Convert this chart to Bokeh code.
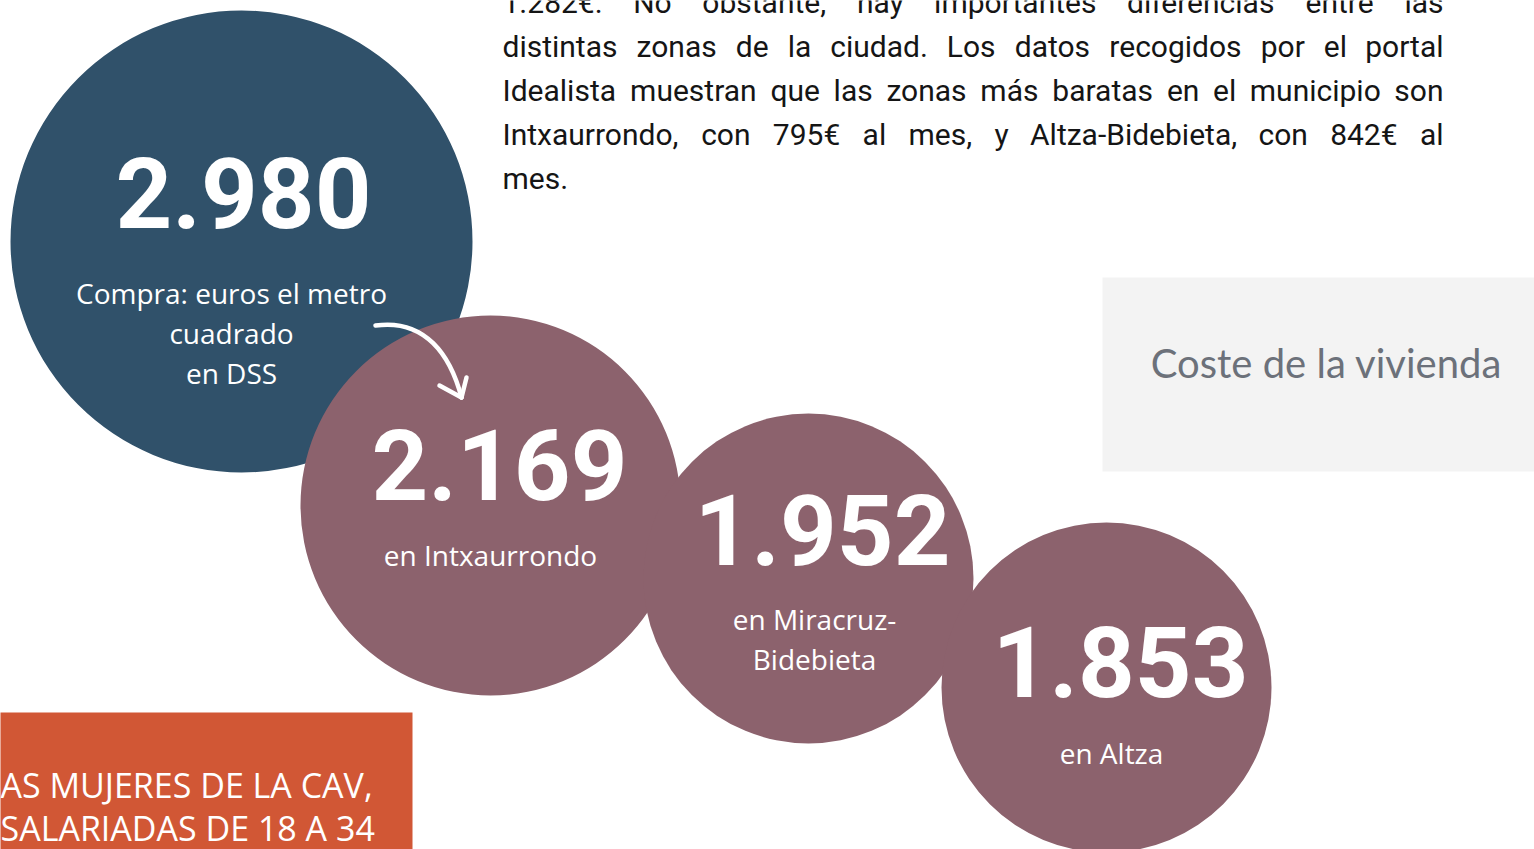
from bokeh.plotting import figure
from bokeh.models import Range1d
from bokeh.core.properties import value
from bokeh.embed import file_html
from bokeh.resources import INLINE

# ---------------- data ----------------
values = ["2.980", "2.169", "1.952", "1.853"]
labels = [
    ["Compra: euros el metro", "cuadrado", "en DSS"],
    ["en Intxaurrondo"],
    ["en Miracruz-", "Bidebieta"],
    ["en Altza"],
]
paragraph = [
    "1.282€. No obstante, hay importantes diferencias entre las",
    "distintas zonas de la ciudad. Los datos recogidos por el portal",
    "Idealista muestran que las zonas más baratas en el municipio son",
    "Intxaurrondo, con 795€ al mes, y Altza-Bidebieta, con 842€ al",
    "mes.",
]
box_title = "Coste de la vivienda"
orange_lines = ["AS MUJERES DE LA CAV,", "SALARIADAS DE 18 A 34"]

# ---------------- layout (screen px) ----------------
cx = [241, 490, 808, 1106]
cy = [241, 505, 578, 687]
rad = [231, 190, 165, 165]
colors = ["#30516a", "#8c626d", "#8c626d", "#8c626d"]
num_x = [243, 499, 822, 1120]
num_base = [228, 500, 565, 697]
num_fs = 99
lab_x = [231, 490, 814, 1111]
lab_y0 = [292, 554, 618, 752]
lab_dy = 40

MID = 0.36  # baseline -> 'middle' anchor offset (em)

# approximate Roboto Regular advance widths (em) for justification
ADV = {
    'a': .544, 'b': .561, 'c': .523, 'd': .564, 'e': .530, 'f': .347, 'g': .561,
    'h': .551, 'i': .243, 'j': .239, 'k': .507, 'l': .243, 'm': .876, 'n': .552,
    'o': .570, 'p': .561, 'q': .568, 'r': .338, 's': .516, 't': .327, 'u': .551,
    'v': .484, 'w': .751, 'x': .496, 'y': .473, 'z': .496, 'á': .544,
    '.': .263, ',': .196, '€': .561, '-': .276, 'I': .279, 'L': .538, 'A': .652,
    'N': .713,
}
def est_width(word, fs):
    return sum(ADV.get(ch, .561) for ch in word) * fs

W, H = 1534, 849
p = figure(width=W, height=H, x_range=Range1d(0, W), y_range=Range1d(H, 0),
           output_backend="svg", toolbar_location=None, min_border=0)
p.axis.visible = False
p.grid.visible = False
p.outline_line_color = None
p.background_fill_color = "white"
p.border_fill_color = "white"

# paragraph, justified word by word
fs = 30
x0, x1 = 502, 1443
for i, line in enumerate(paragraph):
    y = 13 + 44 * i - MID * fs
    words = line.split(" ")
    if i == len(paragraph) - 1 or len(words) == 1:
        p.text(x=[x0], y=[y], text=[line], text_font=value("Roboto"),
               text_font_size=f"{fs}px", text_color="#151515",
               text_align="left", text_baseline="middle")
        continue
    widths = [est_width(w, fs) for w in words]
    gap = ((x1 - x0) - sum(widths)) / (len(words) - 1)
    xs, aligns = [], []
    pos = x0
    for j, w in enumerate(words):
        if j == 0:
            xs.append(x0); aligns.append("left")
        elif j == len(words) - 1:
            xs.append(x1); aligns.append("right")
        else:
            xs.append(pos + widths[j] / 2); aligns.append("center")
        pos += widths[j] + gap
    for xx, ww, al in zip(xs, words, aligns):
        p.text(x=[xx], y=[y], text=[ww], text_font=value("Roboto"),
               text_font_size=f"{fs}px", text_color="#151515",
               text_align=al, text_baseline="middle")

# grey box
p.quad(left=[1102], right=[1540], top=[277], bottom=[471],
       fill_color="#f3f3f3", line_color=None)
p.text(x=[1326], y=[362], text=[box_title], text_font=value("Lato"),
       text_font_size="40px", text_color="#6c717a",
       text_align="center", text_baseline="middle")

# orange box
p.quad(left=[-5], right=[412], top=[712], bottom=[860],
       fill_color="#d15735", line_color=None)
for i, t in enumerate(orange_lines):
    p.text(x=[0], y=[797 + 43 * i - MID * 34], text=[t], text_font=value("Open Sans"),
           text_font_size="34px", text_color="white",
           text_align="left", text_baseline="middle")

# circles
for i in range(4):
    p.circle(x=[cx[i]], y=[cy[i]], radius=rad[i], fill_color=colors[i], line_color=None)
    p.text(x=[num_x[i]], y=[num_base[i] - MID * num_fs], text=[values[i]], text_font=value("Roboto"),
           text_font_style="bold", text_font_size=f"{num_fs}px", text_color="white",
           text_align="center", text_baseline="middle")
    for j, t in enumerate(labels[i]):
        p.text(x=[lab_x[i]], y=[lab_y0[i] + lab_dy * j], text=[t],
               text_font=value("Open Sans"), text_font_size="28px",
               text_color="white", text_align="center", text_baseline="middle")
    if i == 1:
        # arrow drawn over circle 2
        p.bezier(x0=[375], y0=[325], x1=[461], y1=[397], cx0=[425], cy0=[318],
                 cx1=[450], cy1=[355], line_color="white", line_width=4.5, line_cap="round")
        p.segment(x0=[461, 461], y0=[397, 397], x1=[439, 466], y1=[385, 377],
                  line_color="white", line_width=4.5, line_cap="round")

open("out.html", "w").write(file_html(p, INLINE))
